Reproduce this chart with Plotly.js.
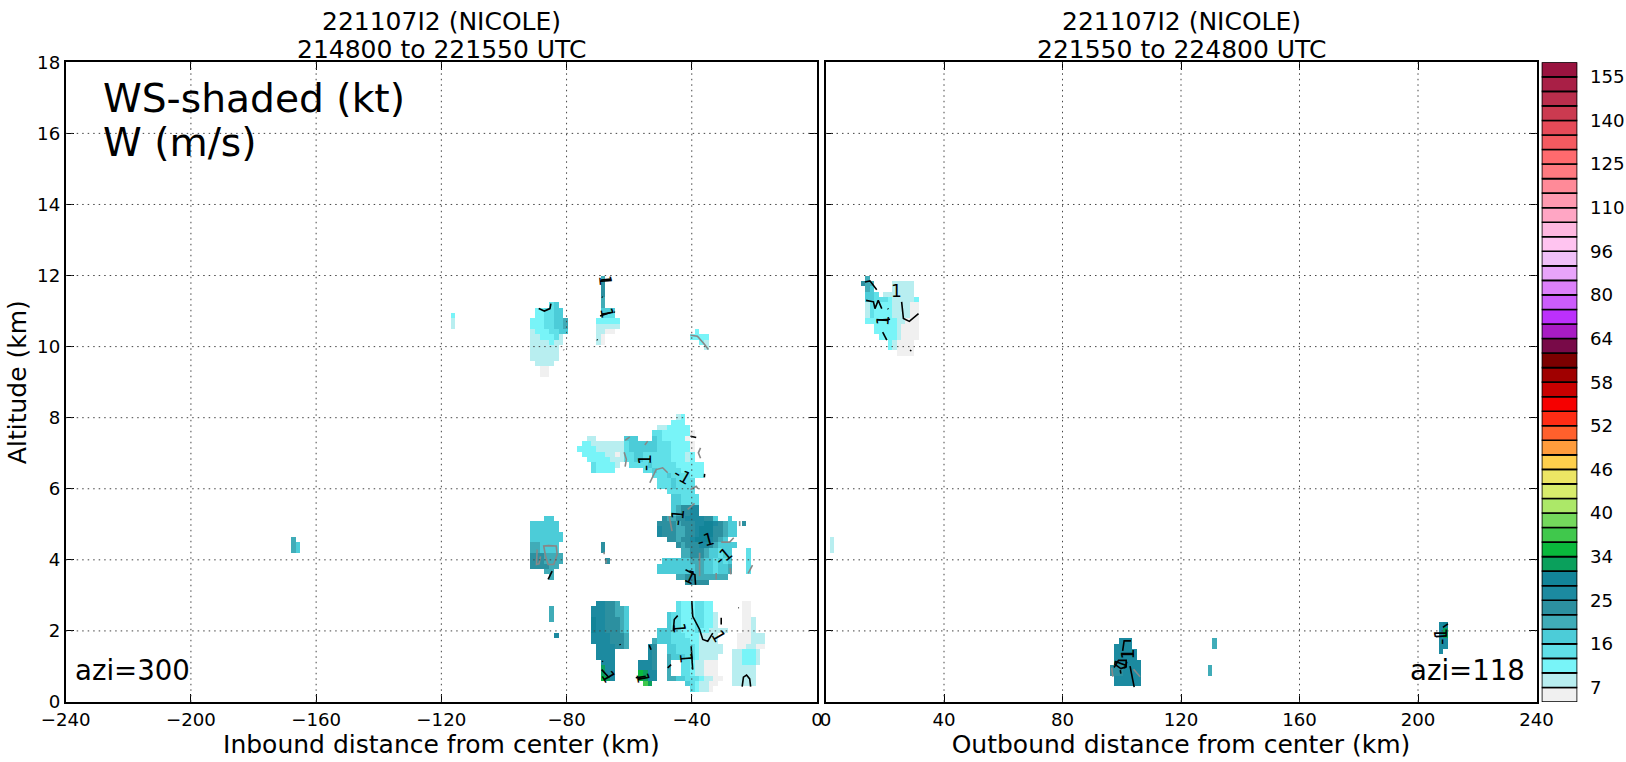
<!DOCTYPE html>
<html><head><meta charset="utf-8">
<script src="https://cdn.plot.ly/plotly-3.0.1.min.js"></script>
<style>html,body{margin:0;padding:0;background:#fff}</style></head>
<body><div id="chart" style="width:1626px;height:762px"></div>
<script>
// wind speed class boundaries (kt) and their colours
const levels=[4,7,10,13,16,19,22,25,28,31,34,36,38,40,42,44,46,48,50,52,54,56,58,60,62,64,69,75,80,85,91,96,101,105,110,115,120,125,130,135,140,145,150,155,160];
const bandColors=['#f0f0f0','#b8eef0','#78f4f8','#60e0e8','#4cccd8','#40acb8','#2c90a0','#1c8aa0','#128498','#0aa05c','#0ab83c','#40c84c','#74d85c','#ace868','#d8ec6c','#ece564','#ffd04c','#ff9c3c','#ff602c','#ff2c14','#f60000','#c80000','#a00000','#7c0000','#780a48','#a81cc4','#bc30fc','#cc5cfc','#dc80fa','#e8a4fa','#f0c0f8','#ffc4f0','#ffb8e0','#ffa6c4','#ff9ab0','#ff8a98','#ff7a80','#ff6a6e','#f45a60','#e64a58','#cb3a50','#b92e4c','#a91f46','#99133f'];
const colorbarTickIndex=[1,4,7,10,13,16,19,22,25,28,31,34,37,40,43];
const colorbarTickText=['7','16','25','34','40','46','52','58','64','80','96','110','125','140','155'];
// letter -> wind speed (kt)
const letterKnots={a:5,b:8,c:11,d:14,e:17,f:20,g:23,h:26,i:29,j:32,k:35,l:37};

// [altBottom, altTop, firstColumnDistance, letters]
const leftRows=[
 // far-left specks
 [4.15,4.65,-168,"f"],[4.25,4.45,-166.5,"e"],
 [10.75,10.95,-117,"c"],[10.45,10.75,-117,"b"],
 // upper blob near -85
 [11.05,11.2,-85.5,"de"],[10.75,11.05,-90,"ccddee"],[10.45,10.75,-91.5,"cccddeef"],[10.3,10.45,-91.5,"bcccddee"],
 [10.15,10.3,-91.5,"bbcccdb"],[10,10.15,-91.5,"bbbbcbb"],[9.55,10,-91.5,"bbbbbb"],[9.4,9.55,-90,"bbbb"],[9.1,9.4,-88.5,"aa"],
 // column near -68
 [11.85,12,-69,"f"],[11.45,11.85,-69,"g"],[11.05,11.45,-69,"f"],[10.9,11.05,-69,"eee"],[10.75,10.9,-69,"ddd"],
 [10.6,10.75,-70.5,"ccccc"],[10.45,10.6,-70.5,"bbbbb"],[10.3,10.45,-70.5,"bbaa"],[10,10.3,-70.5,"ba"],
 // speck near -38
 [10.3,10.45,-39,"c"],[10.15,10.3,-40.5,"cccc"],[10,10.15,-37.5,"cb"],[9.85,10,-36,"b"],
 // mid-level arm
 [7.35,7.5,-73.5,"bb"],[7.2,7.35,-75,"ccbbbbbbb"],[7.05,7.2,-76.5,"ccccbbbbbb"],[6.9,7.05,-75,"cccccbbab"],[6.75,6.9,-73.5,"cccccbbb"],[6.6,6.75,-72,"dccccb"],[6.45,6.6,-72,"dcccc"],
 // mid-level main blob
 [7.95,8.1,-45,"bc"],[7.8,7.95,-46.5,"ccc"],[7.65,7.8,-51,"bbccccc"],[7.5,7.65,-52.5,"ddcccccca"],
 [7.35,7.5,-61.5,"eee"],[7.35,7.5,-52.5,"edccccca"],[7.05,7.35,-61.5,"deeeeeedddcccca"],[6.75,7.05,-61.5,"ddeeddddddcccbc"],
 [6.6,6.75,-60,"ddddedddddcccccc"],[6.45,6.6,-55.5,"ddedddddccccc"],[6.3,6.45,-52.5,"dddeddddccc"],[6,6.3,-51,"dddedddd"],
 [5.85,6,-48,"dddddd"],[5.55,5.85,-46.5,"eedddd"],[5.25,5.55,-46.5,"efgghh"],[5.1,5.25,-49.5,"gffgghhhhgge"],[5.1,5.25,-28.5,"e"],
 [4.95,5.1,-51,"ggggfggghhiihgfee"],[4.95,5.1,-24,"g"],[4.65,4.95,-51,"hgggffgghiiiggfee"],[4.5,4.65,-48,"ggfgghiiihgfe"],
 [4.35,4.5,-45,"gfggghhgfeeee"],[4.05,4.35,-43.5,"ffgggfeedee"],[3.9,4.05,-49.5,"eeeeeefffeedede"],[3.6,3.9,-51,"eeeeeeeeffeedeef"],
 [3.45,3.6,-45,"ffggffff"],[3.45,3.6,-33,"fff"],[3.3,3.45,-42,"ggggg"],
 [3.6,4.35,-22.5,"d"],
 // blob near -87, 4 km
 [5.1,5.25,-87,"ee"],[4.8,5.1,-91.5,"eeeeee"],[4.5,4.8,-91.5,"eeeeeee"],[4.2,4.5,-91.5,"ffeeee"],[3.9,4.2,-91.5,"gggffff"],[3.75,3.9,-91.5,"ggggff"],[3.6,3.75,-87,"ff"],[3.45,3.6,-85.5,"f"],
 // small blocks
 [4.18,4.47,-69,"g"],[3.89,4.04,-67.5,"g"],[2.25,2.68,-85.5,"f"],[1.8,1.94,-84,"h"],
 // low blob near -66
 [2.7,2.85,-70.5,"hhggf"],[2.4,2.7,-72,"hhhggffe"],[2.1,2.4,-72,"ihhgggfe"],[1.9,2.1,-72,"ihhgggfe"],[1.65,1.9,-72,"hhhhgggf"],[1.5,1.65,-70.5,"hhhhggf"],
 [1.2,1.5,-70.5,"hhhh"],[1,1.2,-69,"hhh"],[0.8,1,-69,"jhh"],[0.6,0.8,-69,"kjh"],
 // low blob near -55
 [1.2,1.65,-54,"hg"],[0.9,1.2,-57,"hhhg"],[0.6,0.9,-57,"kjhh"],[0.45,0.6,-55.5,"lj"],
 // low blob near -40
 [2.55,2.85,-45,"dcccddcc"],[2.1,2.55,-48,"eddcccddccb"],[1.95,2.1,-51,"eeeddcccdccbbbb"],[1.8,1.95,-51,"eeedddcccbbbb"],[1.65,1.8,-52.5,"feeeddddccbbbb"],
 [1.35,1.65,-48,"eeddddcbbbbb"],[1.2,1.35,-48,"feeeddcbbbb"],[0.75,1.2,-48,"f"],[0.75,1.2,-43.5,"ddcbbaaa"],[0.6,0.75,-48,"ffeedddcbbaa"],[0.45,0.6,-42,"edcbbaa"],[0.3,0.45,-40.5,"dcbba"],
 // low blob near -23
 [2.4,2.85,-24,"aa"],[2,2.4,-24,"aab"],[1.65,2,-25.5,"aaabbb"],[1.45,1.65,-25.5,"aabbaa"],[1.1,1.45,-27,"bbcccb"],[0.43,1.1,-27,"bbbbb"]
];
const rightRows=[
 [4.2,4.65,1.5,"b"],
 [11.85,12,13.5,"f"],[11.7,11.85,12,"gff"],[11.55,11.7,13.5,"fe"],[11.55,11.85,22.5,"bbbbb"],[11.4,11.55,13.5,"eed"],[11.4,11.55,19.5,"bbbbbbb"],
 [11.2,11.4,13.5,"eedddcbbbbbc"],[10.85,11.2,13.5,"bdccccbbbbaa"],[10.6,10.85,13.5,"cccccccbbaaa"],[10.4,10.6,16.5,"cccccbaaaa"],[10.15,10.4,18,"ccccbaaaa"],[9.95,10.15,21,"cbaaaa"],[9.8,9.95,24,"aaaa"],[9.7,9.8,27,"b"],
 [1.6,1.78,99,"hhh"],[1.45,1.6,97.5,"hhhh"],[1.15,1.45,97.5,"hhhhh"],[1.05,1.15,97.5,"hhhhhh"],[0.7,1.05,96,"ggghhhh"],[0.45,0.7,97.5,"hhhhhh"],
 [0.73,1.05,129,"f"],[1.46,1.78,130.5,"f"],
 [2.05,2.2,207,"hi"],[1.85,2.05,207,"hj"],[1.5,1.85,207,"hh"],[1.35,1.5,207,"h"]
];

// vertical-velocity contour pieces, [distance, altitude]
const leftBlack=[
 [[-40,2.84],[-39.7,2.41],[-37.5,2.04],[-36.5,1.76],[-34.9,1.71],[-33.3,1.94]],
 [[-44.5,2.43],[-45.6,2.32],[-45.9,1.99]],[[-30.6,2.37],[-30.6,2.18]],[[-25.1,2.65],[-24.9,2.65]],[[-63,1.63],[-62.8,1.6]],
 [[-53.6,1.6],[-53,1.47]],[[-40.2,1.57],[-39.9,1.24],[-39.7,.91]],[[-47.7,.96],[-46.6,1.05]],[[-68.6,1.15],[-68.4,1.13]],
 [[-68.8,.91],[-66.4,.68]],[[-57.9,.68],[-54.7,.72]],[[-23.9,.43],[-23.5,.7],[-22.5,.76],[-21.5,.65],[-21.2,.43]],
 [[-84.6,3.68],[-85.9,3.45]],[[-40.4,7.48],[-38.6,7.44]],[[-35.9,6.42],[-36,6.32]],
 [[-42,3.72],[-39,3.58],[-38.8,3.3]],[[-88.9,11.07],[-87.1,11],[-85.3,11.07],[-85,11.21]],
 [[-69,11.87],[-65.9,11.9]],[[-69.3,10.86],[-66,10.96]],[[-68.7,11.4],[-68.5,11.38]],[[-64.8,10.98],[-64.6,10.96]],[[-70.3,10.2],[-70.1,10.18]]
];
const leftGray=[
 [[-61.6,7.03],[-60.9,6.83],[-61.3,6.62]],[[-61.3,7.36],[-59.8,7.46]],[[-55,7.23],[-54.1,7.34]],
 [[-53.4,6.17],[-51.4,6.54],[-49.3,6.59],[-47.7,6.45]],[[-37.2,7.15],[-37.9,7.01],[-37.2,6.86]],
 [[-40.4,5.98],[-38.6,6.07],[-38,6]],[[-41.3,5.42],[-39.1,5.59]],[[-47.2,5.23],[-46.3,4.81]],
 [[-30.6,4.5],[-27.9,4.5],[-26.6,4.62]],[[-24.7,5.09],[-24.7,4.95]],[[-37.5,4.2],[-37.5,3.54]],[[-32.2,3.63],[-32.2,3.45]],
 [[-27.7,3.77],[-27.5,3.59]],[[-22,3.62],[-20.6,3.85]],
 [[-86.7,4.1],[-87.3,4.39],[-85.7,4.4],[-83.3,4.39],[-83,4.15],[-84.1,3.87],[-85.9,3.87],[-86.7,4.1]],
 [[-89.4,4.29],[-89.6,3.87],[-88.8,3.89],[-88.3,4.1]],[[-68,4.22],[-68,4.16]],[[-67.4,4.02],[-67.4,3.9]],
 [[-40.4,10.32],[-38.2,10.29],[-36.1,10.08],[-34.7,9.92]],[[-81,9.92],[-80.8,9.9]]
];
const rightBlack=[
 [[13.3,11.82],[15,11.85],[17.3,11.6]],[[13.7,11.3],[16.2,11.26],[16.7,11.07],[17.8,11.3],[19,11.07]],[[21,11.07],[21.2,11.05]],
 [[17.8,10.75],[21.8,10.77]],[[19.3,10.41],[20.7,10.18]],[[25.7,11.26],[26.3,10.79],[28.3,10.71],[31.4,10.93]],[[28.5,9.9],[29,9.88]],
 [[100.3,1.44],[100.8,1.72],[103.1,1.72]],[[100,1.34],[104,1.34]],
 [[97.4,.97],[98.9,1.17],[101.5,1.17],[101.5,.99],[99.7,.94],[97.7,1.06]],[[99.5,.9],[99.7,.8]],[[102.8,1.01],[103.6,.64],[104.2,.42]],
 [[208.4,2.1],[210.1,2.2]],[[206,1.84],[209.5,1.86]]
];
const rightGray=[[[96.6,.97],[97,.71]],[[104,.92],[106.2,.71]]];

// contour labels: [distance, altitude, text, rotation]
const leftLabels=[[-54.9,6.73,"-1",-90],[-42.9,6.36,"-1",30],[-44.5,5.2,"-1",-85],[-35.6,4.57,"-1",-15],[-29.8,4.1,"-1",-40],[-44,2.08,"1",85],[-41.8,1.24,"1",85],[-31.5,1.85,"1",60],[-66.5,.7,"1",60],[-55.5,.68,"1",80],[-67.5,11.85,"1",85],[-67,10.95,"1",80],[-40.5,3.52,"1",25]];
const rightLabels=[[23.8,11.56,"1",0],[19.3,10.75,"1",-85],[102,1.36,"1",-90],[99.5,1.08,"1",-70],[207.5,1.84,"-1",-90]];

const xTicksLeft=[-240,-200,-160,-120,-80,-40,0];
const xTicksRight=[0,40,80,120,160,200,240];
const yTicks=[0,2,4,6,8,10,12,14,16,18];

const W=1626,H=762;
const FONT='"DejaVu Sans", sans-serif';
const colW=1.5,rowH=0.15,nCol=160,nRow=120;
function grid(rows,xStart){
  const z=[];for(let r=0;r<nRow;r++)z.push(new Array(nCol).fill(null));
  for(const [a0,a1,x0,s] of rows){
    for(let r=0;r<nRow;r++){
      const mid=(r+0.5)*rowH;
      if(mid<a0||mid>=a1)continue;
      for(let i=0;i<s.length;i++){
        const c=Math.round((x0-xStart)/colW)+i;
        if(c>=0&&c<nCol&&letterKnots[s[i]]!==undefined)z[r][c]=letterKnots[s[i]];
      }
    }
  }
  return z;
}
const scale=[];
const zmin=levels[0],zmax=levels[levels.length-1];
bandColors.forEach((c,i)=>{scale.push([(levels[i]-zmin)/(zmax-zmin),c]);scale.push([(levels[i+1]-zmin)/(zmax-zmin),c]);});
function heat(rows,xStart,xa,ya){
  return {type:'heatmap',x:Array.from({length:nCol},(_,i)=>xStart+(i+.5)*colW),y:Array.from({length:nRow},(_,i)=>(i+.5)*rowH),
    z:grid(rows,xStart),colorscale:scale,zmin,zmax,showscale:false,xaxis:xa,yaxis:ya,hoverongaps:false,zsmooth:false};
}
function lines(pieces,color,xa,ya){
  const x=[],y=[];pieces.forEach(p=>{p.forEach(q=>{x.push(q[0]);y.push(q[1]);});x.push(null);y.push(null);});
  return {type:'scatter',mode:'lines',x,y,line:{color,width:1.6},xaxis:xa,yaxis:ya,showlegend:false,hoverinfo:'skip'};
}
const colorbar={type:'bar',x:bandColors.map(()=>0),y:bandColors.map(()=>1),base:bandColors.map((_,i)=>i),width:1,
  marker:{color:bandColors,line:{color:'#000',width:1.6}},xaxis:'x3',yaxis:'y3',showlegend:false,hoverinfo:'skip'};
const traces=[heat(leftRows,-240,'x','y'),lines(leftGray,'#888','x','y'),lines(leftBlack,'#000','x','y'),
  heat(rightRows,0,'x2','y2'),lines(rightGray,'#888','x2','y2'),lines(rightBlack,'#000','x2','y2'),colorbar];

const plotTop=62.3,plotBot=702;
const yDom=[(H-plotBot)/H,(H-plotTop)/H];
const common={showline:true,linecolor:'#000',linewidth:1.6,mirror:'ticks',ticks:'inside',ticklen:8,tickwidth:1,tickcolor:'#000',showgrid:false,zeroline:false,tickfont:{family:FONT,size:18.2,color:'#000'}};
const shapes=[];
function gridShapes(xa,ya,xs,xr){
  xs.filter(v=>v!==xr[0]&&v!==xr[1]).forEach(v=>shapes.push({type:'line',xref:xa,yref:ya,x0:v,x1:v,y0:18,y1:0,layer:'above',line:{color:'#444',width:1,dash:'1.5px,4px'}}));
  yTicks.filter(v=>v!==0&&v!==18).forEach(v=>shapes.push({type:'line',xref:xa,yref:ya,x0:xr[0],x1:xr[1],y0:v,y1:v,layer:'above',line:{color:'#444',width:1,dash:'1.5px,4px'}}));
}
gridShapes('x','y',xTicksLeft,[-240,0]);gridShapes('x2','y2',xTicksRight,[0,240]);
const ann=[];
function txt(x,y,text,size,xanchor){ann.push({xref:'paper',yref:'paper',x:x/W,y:1-y/H,text,showarrow:false,xanchor:xanchor||'center',yanchor:'middle',font:{family:FONT,size,color:'#000'}});}
txt(442,22,'221107I2 (NICOLE)',25);txt(442,49,'214800 to 221550 UTC',25);
txt(1181,22,'221107I2 (NICOLE)',25);txt(1181,49,'221550 to 224800 UTC',25);
txt(101,98,'WS-shaded (kt)',39.2,'left');txt(101,142,'W (m/s)',39.2,'left');
txt(73,670,'azi=300',27.6,'left');txt(1527,670,'azi=118',27.6,'right');
function lab(list,xa,ya){list.forEach(l=>ann.push({xref:xa,yref:ya,x:l[0],y:l[1],text:l[2],textangle:l[3],showarrow:false,font:{family:FONT,size:17,color:'#000'}}));}
lab(leftLabels,'x','y');lab(rightLabels,'x2','y2');

const layout={width:W,height:H,autosize:false,margin:{l:0,r:0,t:0,b:0},paper_bgcolor:'#fff',plot_bgcolor:'#fff',showlegend:false,barmode:'overlay',
 xaxis:Object.assign({},common,{domain:[65.7/W,817/W],range:[-240,0],tickvals:xTicksLeft,ticktext:xTicksLeft.map(v=>v<0?'\u2212'+(-v):''+v),anchor:'y',
   title:{text:'Inbound distance from center (km)',font:{family:FONT,size:25,color:'#000'},standoff:4}}),
 yaxis:Object.assign({},common,{domain:yDom,range:[0,18],tickvals:yTicks,anchor:'x',
   title:{text:'Altitude (km)',font:{family:FONT,size:25,color:'#000'},standoff:3}}),
 xaxis2:Object.assign({},common,{domain:[825.5/W,1536.5/W],range:[0,240],tickvals:xTicksRight,anchor:'y2',
   title:{text:'Outbound distance from center (km)',font:{family:FONT,size:25,color:'#000'},standoff:4}}),
 yaxis2:Object.assign({},common,{domain:yDom,range:[0,18],tickvals:yTicks,showticklabels:false,anchor:'x2'}),
 xaxis3:{domain:[1541.7/W,1577.3/W],range:[-.5,.5],visible:false,anchor:'y3',fixedrange:true},
 yaxis3:{domain:yDom,range:[0,44],side:'right',anchor:'x3',tickvals:colorbarTickIndex,ticktext:colorbarTickText,ticks:'outside',ticklen:8,tickcolor:'rgba(0,0,0,0)',showgrid:false,zeroline:false,showline:false,tickfont:{family:FONT,size:18.2,color:'#000'}},
 shapes,annotations:ann};
Plotly.newPlot('chart',traces,layout,{displayModeBar:false,responsive:false});
</script></body></html>
